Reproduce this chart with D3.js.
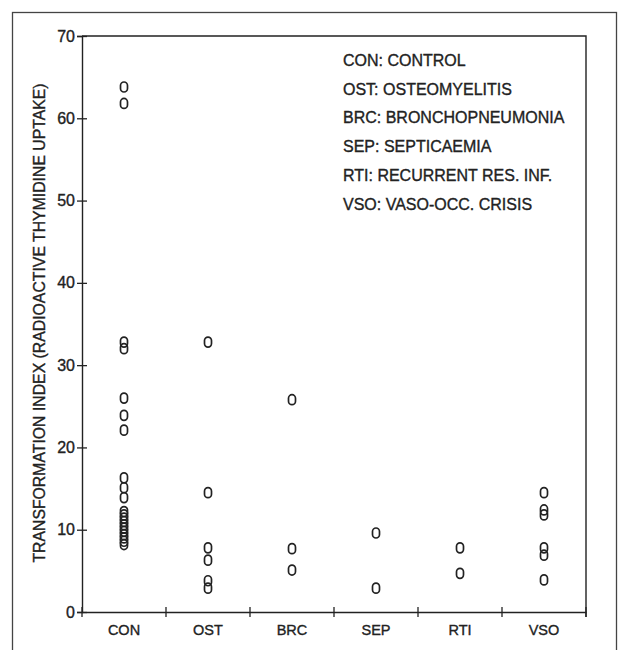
<!DOCTYPE html>
<html>
<head>
<meta charset="utf-8">
<script src="https://cdn.jsdelivr.net/npm/d3@7"></script>
<style>
  html, body { margin: 0; padding: 0; background: #fff; }
  svg { display: block; }
  text { font-family: "Liberation Sans", Arial, sans-serif; fill: #222; stroke: #222; stroke-width: 0.35px; }
</style>
</head>
<body>
<svg id="chart" width="619" height="650"></svg>
<script>
// groups on the x axis
const categories = ['CON', 'OST', 'BRC', 'SEP', 'RTI', 'VSO'];

// transformation index per patient
const conValues = [63.8, 61.8, 32.8, 32.0, 26.0, 23.9, 22.1, 16.3, 15.1, 13.9,
  12.2, 11.8, 11.4, 11.0, 10.6, 10.2, 9.8, 9.4, 9.0, 8.6, 8.2];
const ostValues = [32.8, 14.5, 7.8, 6.3, 3.8, 2.9];
const brcValues = [25.8, 7.7, 5.1];
const sepValues = [9.6, 2.9];
const rtiValues = [7.8, 4.7];
const vsoValues = [14.5, 12.4, 11.8, 7.8, 6.9, 3.9];

const yTicks = [0, 10, 20, 30, 40, 50, 60, 70];

const legendLines = [
  'CON: CONTROL',
  'OST: OSTEOMYELITIS',
  'BRC: BRONCHOPNEUMONIA',
  'SEP: SEPTICAEMIA',
  'RTI: RECURRENT RES. INF.',
  'VSO: VASO-OCC. CRISIS'
];

const yTitle = 'TRANSFORMATION INDEX (RADIOACTIVE THYMIDINE UPTAKE)';

const points = [conValues, ostValues, brcValues, sepValues, rtiValues, vsoValues]
  .flatMap((vals, i) => vals.map(v => ({ group: categories[i], value: v })));

const ink = '#222';
const font = '"Liberation Sans", Arial, sans-serif';
const svg = d3.select('#chart');

const margin = { top: 36, right: 33, bottom: 38, left: 82 };
const width = 619, height = 650;

const x = d3.scaleBand()
  .domain(categories)
  .range([margin.left, width - margin.right])
  .padding(0);

const y = d3.scaleLinear()
  .domain([0, 70])
  .range([height - margin.bottom, margin.top]);

// outer page border
svg.append('rect')
  .attr('x', 12.5)
  .attr('y', 12.5)
  .attr('width', 604)
  .attr('height', 660)
  .attr('fill', 'none')
  .attr('stroke', '#444')
  .attr('stroke-width', 1.3);

// frame: top and right
svg.append('path')
  .attr('d', `M${x.range()[0]},${y(70)}H${x.range()[1]}V${y(0) + 5}`)
  .attr('fill', 'none')
  .attr('stroke', ink)
  .attr('stroke-width', 1.4);

// y axis
const yAxis = svg.append('g')
  .attr('transform', `translate(${margin.left},0)`)
  .call(d3.axisLeft(y).tickValues(yTicks).tickSize(5).tickPadding(2));
yAxis.select('.domain').attr('stroke', ink).attr('stroke-width', 1.4);
yAxis.selectAll('.tick line').attr('x1', 5).attr('stroke', ink).attr('stroke-width', 1.3);
yAxis.selectAll('.tick text')
  .attr('font-size', 16)
  .attr('font-family', font)
  .attr('fill', ink);

// x axis
const xAxis = svg.append('g')
  .attr('transform', `translate(0,${y(0)})`)
  .call(d3.axisBottom(x).tickSize(0).tickPadding(13));
xAxis.select('.domain').attr('stroke', ink).attr('stroke-width', 1.4);
xAxis.selectAll('.tick text')
  .attr('font-size', 14.5)
  .attr('font-family', font)
  .attr('fill', ink);

// boundary ticks between groups
const bounds = categories.map(c => x(c)).concat([x.range()[1]]);
xAxis.selectAll('line.bound')
  .data(bounds)
  .join('line')
  .attr('class', 'bound')
  .attr('x1', d => d)
  .attr('x2', d => d)
  .attr('y1', -5)
  .attr('y2', 5)
  .attr('stroke', ink)
  .attr('stroke-width', 1.3);

// y title
svg.append('text')
  .attr('transform', 'translate(45,323) rotate(-90)')
  .attr('text-anchor', 'middle')
  .attr('font-size', 15.8)
  .text(yTitle);

// legend
svg.append('g')
  .selectAll('text')
  .data(legendLines)
  .join('text')
  .attr('x', 343)
  .attr('y', (d, i) => 66 + i * 28.7)
  .attr('font-size', 16)
  .text(d => d);

// data marks: the "0" symbols
svg.append('g')
  .selectAll('rect')
  .data(points)
  .join('rect')
  .attr('x', d => x(d.group) + x.bandwidth() / 2 - 3.5)
  .attr('y', d => y(d.value) - 5)
  .attr('width', 7)
  .attr('height', 10)
  .attr('rx', 3.5)
  .attr('ry', 3.5)
  .attr('fill', 'none')
  .attr('stroke', ink)
  .attr('stroke-width', 1.7);
</script>
</body>
</html>
